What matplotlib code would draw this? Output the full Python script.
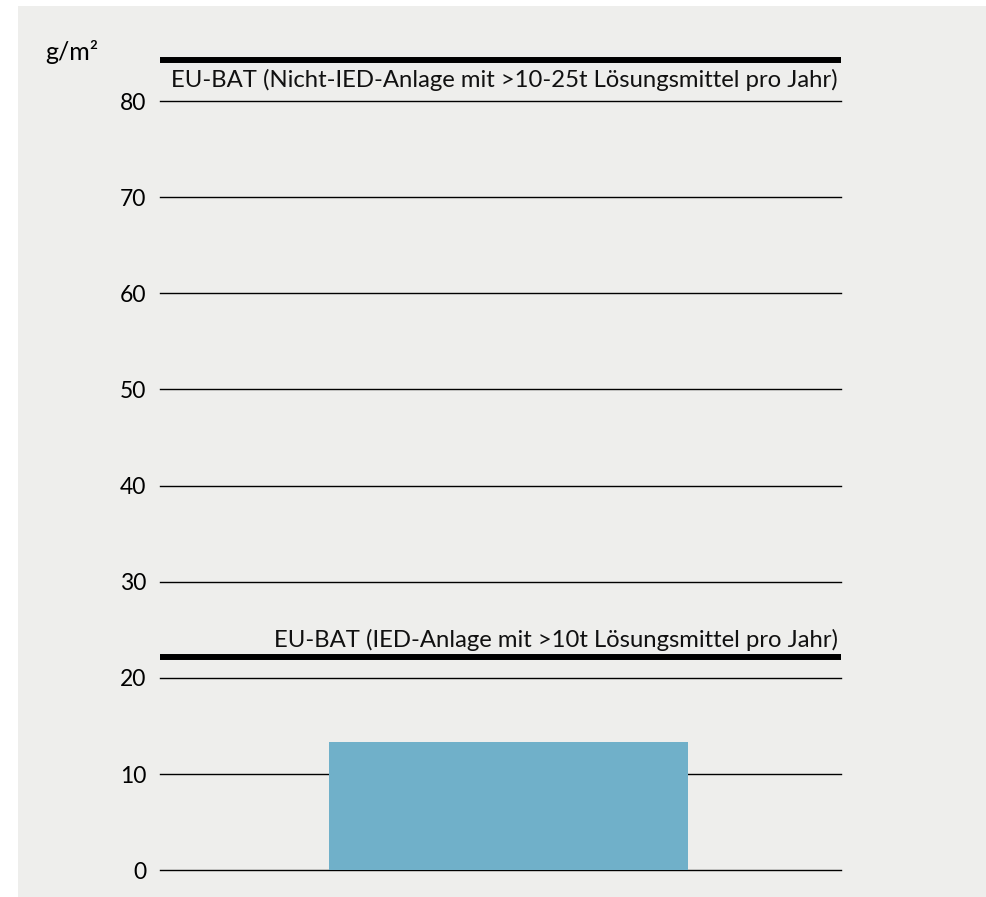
import matplotlib.pyplot as plt

# Werte
categories = ["Anlage"]
values = [13.3]
bat_limits = [22.2, 84.3]
bat_labels = [
    "EU-BAT (IED-Anlage mit >10t Lösungsmittel pro Jahr)",
    "EU-BAT (Nicht-IED-Anlage mit >10-25t Lösungsmittel pro Jahr)",
]
y_ticks = [0, 10, 20, 30, 40, 50, 60, 70, 80]
unit = "g/m²"

BG = "#eeeeec"
BAR = "#70b0c9"

plt.rcParams["font.family"] = ["Lato", "DejaVu Sans"]

W, H = 986, 897
fig = plt.figure(figsize=(W / 100, H / 100), dpi=100)
fig.patch.set_facecolor("white")

# grauer Hintergrund
bg = plt.Rectangle((18 / W, 0), 1 - 18 / W, 1 - 6 / H,
                   transform=fig.transFigure,
                   facecolor=BG, edgecolor="none", zorder=-10)
fig.add_artist(bg)

px_per_unit = (870.3 - 101) / 80
ymax = 86
top_px = 870.3 - ymax * px_per_unit
ax = fig.add_axes([160 / W, (H - 870.3) / H, (841 - 160) / W,
                   (870.3 - top_px) / H])
ax.set_facecolor("none")

ax.bar(categories, values, width=0.527, color=BAR, zorder=2)
ax.set_xlim(-0.512, 0.488)
ax.set_ylim(0, ymax)

for y in y_ticks:
    ax.axhline(y, color="black", lw=1.0, zorder=1, clip_on=False)

# Grenzwertlinien mit Beschriftung
ax.axhline(bat_limits[0], color="black", lw=4.3, zorder=3)
ax.text(0.995, bat_limits[0] + 10.3 / px_per_unit, bat_labels[0],
        transform=ax.get_yaxis_transform(),
        ha="right", va="baseline", fontsize=17.2, color="#111111")
ax.axhline(bat_limits[1], color="black", lw=4.3, zorder=3)
ax.text(0.995, bat_limits[1] - 27.3 / px_per_unit, bat_labels[1],
        transform=ax.get_yaxis_transform(),
        ha="right", va="baseline", fontsize=17.2, color="#111111")

ax.set_yticks(y_ticks)
ax.set_yticklabels([str(v) for v in y_ticks], fontsize=16.5)
ax.tick_params(axis="y", length=0, pad=10)
ax.set_xticks([])
for s in ax.spines.values():
    s.set_visible(False)

fig.text(45 / W, 1 - 60 / H, unit, fontsize=18, ha="left", va="baseline")

fig.savefig("out.png", dpi=100, facecolor=fig.get_facecolor())
